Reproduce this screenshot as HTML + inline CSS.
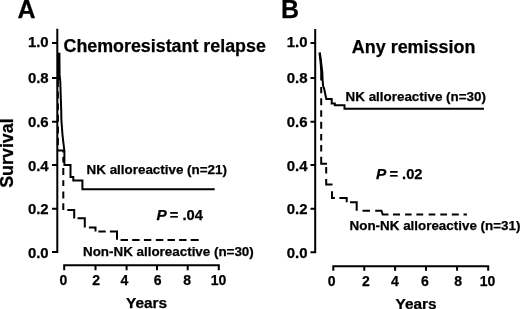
<!DOCTYPE html>
<html><head><meta charset="utf-8"><title>Kaplan-Meier survival</title>
<style>
html,body{margin:0;padding:0;background:#fff;}
body{width:520px;height:309px;overflow:hidden;}
svg{display:block;}
text{font-family:"Liberation Sans",Arial,Helvetica,sans-serif;font-weight:bold;fill:#000;stroke:#000;stroke-width:0.25px;}
.ax{fill:none;stroke:#000;stroke-width:2;stroke-linejoin:miter;stroke-linecap:butt;}
.cv{fill:none;stroke:#000;stroke-width:2;stroke-linejoin:miter;stroke-linecap:butt;}
.yl{font-size:14.4px;text-anchor:end;}
.xl{font-size:14px;text-anchor:middle;}
.lab{font-size:13.4px;}
.ttl{font-size:17.8px;}
.pan{font-size:25px;}
</style></head>
<body>
<svg width="520" height="309" viewBox="0 0 520 309">
<rect width="520" height="309" fill="#fff"/>

<!-- ============ PANEL A ============ -->
<text class="pan" x="17.6" y="17.8">A</text>
<text class="ttl" x="63.5" y="52.3" style="font-size:17.85px">Chemoresistant relapse</text>
<text transform="translate(12.7,153.05) rotate(-90)" style="font-size:17.5px;text-anchor:middle" textLength="69.5" lengthAdjust="spacingAndGlyphs">Survival</text>

<!-- y axis -->
<path class="ax" d="M57.3,28.8 V252.6 M52,43 H57.3 M52,78 H57.3 M52,121.7 H57.3 M52,165 H57.3 M52,208.7 H57.3 M52,252 H58.3"/>
<text class="yl" x="48.7" y="47.3" textLength="20.8" lengthAdjust="spacingAndGlyphs">1.0</text>
<text class="yl" x="48.7" y="82.6" textLength="20.8" lengthAdjust="spacingAndGlyphs">0.8</text>
<text class="yl" x="48.7" y="127.0" textLength="20.8" lengthAdjust="spacingAndGlyphs">0.6</text>
<text class="yl" x="48.7" y="170.9" textLength="20.8" lengthAdjust="spacingAndGlyphs">0.4</text>
<text class="yl" x="48.7" y="214.2" textLength="20.8" lengthAdjust="spacingAndGlyphs">0.2</text>
<text class="yl" x="48.7" y="257.6" textLength="20.8" lengthAdjust="spacingAndGlyphs">0.0</text>

<!-- x axis -->
<path class="ax" d="M64.2,270.3 V265.2 H218.8 V270.3 M95.5,265.2 V270.3 M126.6,265.2 V270.3 M157,265.2 V270.3 M187.7,265.2 V270.3"/>
<text class="xl" x="63.3" y="285.1">0</text>
<text class="xl" x="96.2" y="285.1">2</text>
<text class="xl" x="124.4" y="285.1">4</text>
<text class="xl" x="157.6" y="285.1">6</text>
<text class="xl" x="187.2" y="285.1">8</text>
<text class="xl" x="218.5" y="285.1">10</text>
<text class="xl" x="146.6" y="308" textLength="41" lengthAdjust="spacingAndGlyphs">Years</text>

<!-- solid curve A (NK alloreactive) -->
<path class="cv" d="M59.4,52.8 L59.6,75 L60.3,82 L60.7,95 L61.2,110 L61.4,120 L62.5,135 L64,148 L64.4,151 L64.4,165.1 L70.5,165.1 L70.5,177 L73.3,177 L73.3,180.6 L82.4,180.6 L82.4,189.2 L214.7,189.2"/>
<!-- dashed curve A (Non-NK) -->
<path class="cv" d="M58.5,52.8 V80"/><path class="cv" d="M57.9,80 V150.5" style="stroke-dasharray:7 4.6"/>
<path class="cv" d="M57.5,150.5 H63.3 V152.5 M63.3,156.7 V162.5 M63.3,168 V175 M63.3,180.2 V186 M63.3,191.6 V198.6 M63.3,203.2 V210 M67.3,210 H74.2 V218.4 M77.5,218.3 H84.8 V227.4 M88.9,227.4 H95.5 V231.5 M98.4,231.5 H105.7 M109.9,231.5 H117 V239.8 M120.6,240 H128 M132.2,240 H139.6 M143.9,240 H151.3 M155.8,240 H163.3 M167.5,240 H175 M179.1,240 H186.5 M190.7,240 H198.7"/>

<text class="lab" x="86.6" y="174.1">NK alloreactive (n=21)</text>
<text style="font-size:14.7px" x="156.4" y="220.2"><tspan font-style="italic" style="font-size:15.4px">P</tspan><tspan dx="-0.9"> = .04</tspan></text>
<text class="lab" x="83" y="255.6">Non-NK alloreactive (n=30)</text>

<!-- ============ PANEL B ============ -->
<text class="pan" x="281.1" y="17.8">B</text>
<text class="ttl" x="351.8" y="52.9" style="font-size:17.95px">Any remission</text>

<path class="ax" d="M315.2,28.9 V252.6 M310.5,43 H315.2 M310.5,78 H315.2 M310.5,121.7 H315.2 M310.5,165 H315.2 M310.5,208.7 H315.2 M310.5,252.3 H316.2"/>
<text class="yl" x="307.5" y="47.3" textLength="20.8" lengthAdjust="spacingAndGlyphs">1.0</text>
<text class="yl" x="307.5" y="82.6" textLength="20.8" lengthAdjust="spacingAndGlyphs">0.8</text>
<text class="yl" x="307.5" y="127.0" textLength="20.8" lengthAdjust="spacingAndGlyphs">0.6</text>
<text class="yl" x="307.5" y="170.9" textLength="20.8" lengthAdjust="spacingAndGlyphs">0.4</text>
<text class="yl" x="307.5" y="214.2" textLength="20.8" lengthAdjust="spacingAndGlyphs">0.2</text>
<text class="yl" x="307.5" y="257.6" textLength="20.8" lengthAdjust="spacingAndGlyphs">0.0</text>

<path class="ax" d="M333.3,270.8 V266.2 H488.2 V270.8 M364.3,266.2 V270.8 M395.1,266.2 V270.8 M426,266.2 V270.8 M457.1,266.2 V270.8"/>
<text class="xl" x="331.6" y="286">0</text>
<text class="xl" x="365.8" y="286">2</text>
<text class="xl" x="394.8" y="286">4</text>
<text class="xl" x="424.9" y="286">6</text>
<text class="xl" x="458.2" y="286">8</text>
<text class="xl" x="487.6" y="286">10</text>
<text class="xl" x="416" y="308.6" textLength="41" lengthAdjust="spacingAndGlyphs">Years</text>

<!-- solid curve B -->
<path class="cv" d="M319.8,52.7 L320.9,60 L321.5,66 L322.3,72 L322.6,80 L323.1,86 L324.1,88.5 L326.3,98.9 L331.7,98.9 L331.7,103.6 L334.8,103.6 L334.8,105.3 L344.5,105.3 L344.5,108.8 L484,108.8"/>
<!-- dashed curve B -->
<path class="cv" d="M319.5,52.7 L320.3,60 L320.9,66 L321.2,72 V80.5 M321.2,87 V93.3 M321.2,98.3 V105.3 M321.2,110.3 V116.8 M321.2,121.7 V128.8 M321.2,134 V140.4 M321.2,145 V151.5 M321.2,156.7 V163.8 H327 M326.2,167 V173.5 M326.2,178.9 V184.6 H332.5 M332,191.2 V198 H334.9 M339.4,198 H346.7 V202.2 M350,202.2 H356.7 V210.7 M362.5,210.7 H370 M375.2,210.7 H381.5 L382.7,214.5 H388.5 M393,214.5 H400 M405.1,214.5 H411.6 M416.4,214.5 H423.2 M428.6,214.5 H435.3 M440.3,214.5 H447 M451.8,214.5 H458.8 M463.5,214.5 H466.9"/>

<text class="lab" x="345.6" y="100.5">NK alloreactive (n=30)</text>
<text style="font-size:14.7px" x="376.0" y="178.7"><tspan font-style="italic" style="font-size:15.4px">P</tspan><tspan dx="-0.9"> = .02</tspan></text>
<text class="lab" x="349.6" y="229.8">Non-NK alloreactive (n=31)</text>
</svg>
</body></html>
